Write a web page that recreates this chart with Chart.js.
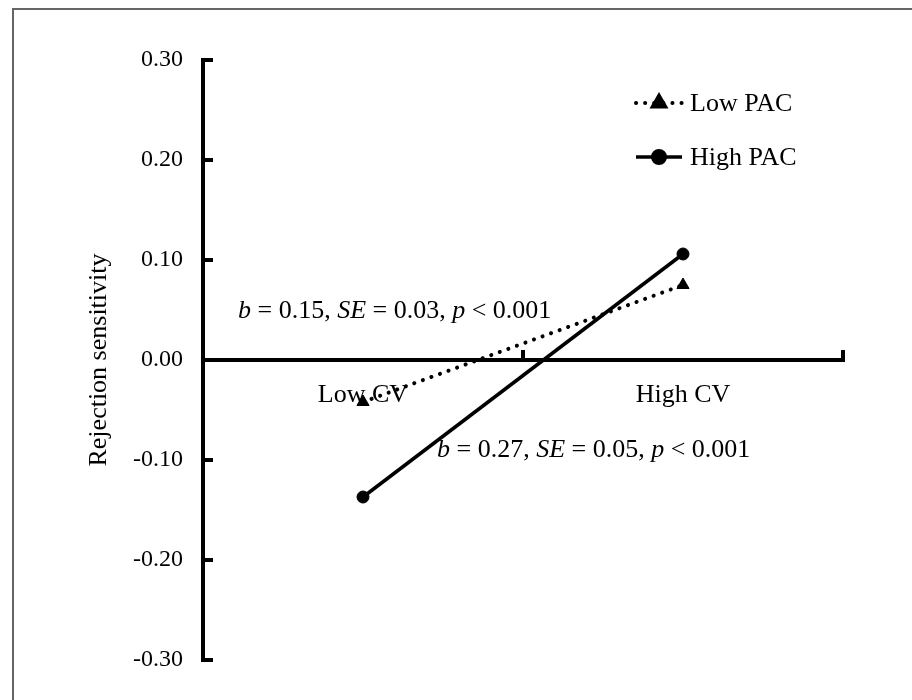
<!DOCTYPE html>
<html>
<head>
<meta charset="utf-8">
<script src="https://cdn.jsdelivr.net/npm/chart.js@4.4.1/dist/chart.umd.min.js"></script>
<style>
  body { margin: 0; background: #fff; }
  canvas { display: block; }
</style>
</head>
<body>
<canvas id="chart" width="912" height="700"></canvas>
<script>
const categories = ['Low CV', 'High CV'];
const lowPAC = [-0.042, 0.075];
const highPAC = [-0.137, 0.106];
const yTicks = [-0.3, -0.2, -0.1, 0, 0.1, 0.2, 0.3];
const notes = [
  { y: 0.049, x0: 238, parts: [['b', 1], [' = 0.15, ', 0], ['SE', 1], [' = 0.03, ', 0], ['p', 1], [' < 0.001', 0]] },
  { y: -0.090, x0: 437, parts: [['b', 1], [' = 0.27, ', 0], ['SE', 1], [' = 0.05, ', 0], ['p', 1], [' < 0.001', 0]] }
];

const FONT = '"Liberation Serif", "Times New Roman", serif';

function font(size, italic) {
  return (italic ? 'italic ' : '') + size + 'px ' + FONT;
}

const decor = {
  id: 'decor',
  beforeDraw(chart) {
    const ctx = chart.ctx;
    ctx.save();
    // picture frame
    ctx.strokeStyle = '#666';
    ctx.lineWidth = 2;
    ctx.beginPath();
    ctx.moveTo(13, 700);
    ctx.lineTo(13, 9);
    ctx.lineTo(912, 9);
    ctx.stroke();
    ctx.restore();
  },
  afterDatasetsDraw(chart) {
    const ctx = chart.ctx;
    const x = chart.scales.x, y = chart.scales.y;
    const y0 = y.getPixelForValue(0);
    ctx.save();
    ctx.strokeStyle = '#000';
    ctx.lineWidth = 4;
    ctx.lineCap = 'butt';
    // y axis with inward ticks
    ctx.beginPath();
    ctx.moveTo(x.left, y.top - 2);
    ctx.lineTo(x.left, y.bottom + 2);
    yTicks.forEach(v => {
      const py = y.getPixelForValue(v);
      ctx.moveTo(x.left, py);
      ctx.lineTo(x.left + 10, py);
    });
    ctx.stroke();
    // x axis at zero with upward ticks between categories
    const mid = (x.getPixelForValue(0) + x.getPixelForValue(1)) / 2;
    ctx.beginPath();
    ctx.moveTo(x.left, y0);
    ctx.lineTo(x.right + 2, y0);
    [mid, x.right].forEach(px => {
      ctx.moveTo(px, y0 + 2);
      ctx.lineTo(px, y0 - 10);
    });
    ctx.stroke();

    // slope annotations
    ctx.fillStyle = '#000';
    ctx.textBaseline = 'middle';
    ctx.textAlign = 'left';
    notes.forEach(n => {
      let px = n.x0;
      const py = y.getPixelForValue(n.y);
      n.parts.forEach(([t, it]) => {
        ctx.font = font(26, it);
        ctx.fillText(t, px, py);
        px += ctx.measureText(t).width;
      });
    });

    // legend
    const items = [
      { ds: chart.data.datasets[0], py: 103 },
      { ds: chart.data.datasets[1], py: 157 }
    ];
    items.forEach(({ ds, py }) => {
      ctx.save();
      ctx.strokeStyle = '#000';
      ctx.lineWidth = ds.borderWidth;
      ctx.lineCap = ds.borderCapStyle || 'butt';
      ctx.setLineDash(ds.borderDash || []);
      ctx.beginPath();
      ctx.moveTo(636, py);
      ctx.lineTo(682, py);
      ctx.stroke();
      ctx.restore();
      Chart.helpers.drawPoint(ctx, {
        pointStyle: ds.pointStyle, radius: ds.pointRadius, rotation: 0, borderWidth: 1
      }, 659, py);
      ctx.fillStyle = '#000';
      ctx.font = font(26, false);
      ctx.fillText(ds.label, 690, py + 1);
    });
    ctx.restore();
  }
};

new Chart(document.getElementById('chart'), {
  type: 'line',
  data: {
    labels: categories,
    datasets: [
      {
        label: 'Low PAC',
        data: lowPAC,
        borderColor: '#000',
        backgroundColor: '#000',
        borderWidth: 4,
        borderDash: [0.1, 9],
        borderCapStyle: 'round',
        pointStyle: 'triangle',
        pointRadius: 7,
        pointBorderWidth: 1,
        tension: 0
      },
      {
        label: 'High PAC',
        data: highPAC,
        borderColor: '#000',
        backgroundColor: '#000',
        borderWidth: 3.5,
        pointStyle: 'circle',
        pointRadius: 6,
        pointBorderWidth: 1,
        tension: 0
      }
    ]
  },
  options: {
    responsive: false,
    animation: false,
    devicePixelRatio: 1,
    layout: { padding: { left: 0, right: 69, top: 60, bottom: 40 } },
    plugins: {
      legend: { display: false },
      tooltip: { enabled: false }
    },
    scales: {
      x: {
        type: 'category',
        offset: true,
        position: { y: 0 },
        grid: { display: false },
        border: { display: false },
        ticks: { color: '#000', font: { family: FONT, size: 26 }, padding: 12 }
      },
      y: {
        min: -0.3,
        max: 0.3,
        grid: { display: false, drawTicks: false },
        border: { display: false },
        afterFit(scale) { scale.width = 203; },
        ticks: {
          stepSize: 0.1,
          color: '#000',
          padding: 20,
          font: { family: FONT, size: 24 },
          callback: v => v.toFixed(2)
        },
        title: {
          display: true,
          text: 'Rejection sensitivity',
          color: '#000',
          font: { family: FONT, size: 26 },
          padding: { top: 84, bottom: 0 }
        }
      }
    }
  },
  plugins: [decor]
});
</script>
</body>
</html>
